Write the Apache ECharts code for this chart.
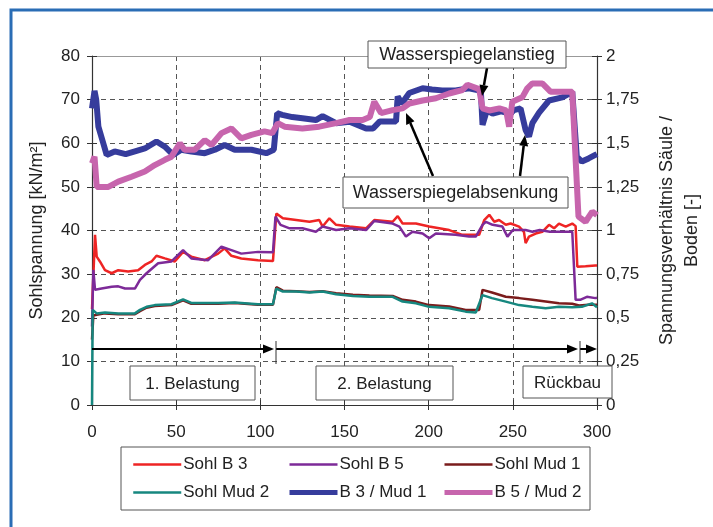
<!DOCTYPE html>
<html><head><meta charset="utf-8">
<script src="https://cdn.jsdelivr.net/npm/echarts@6/dist/echarts.min.js"></script>
<style>html,body{margin:0;padding:0;background:#fff}#c{width:713px;height:527px}</style>
</head><body><div id="c"></div>
<script>
// ---- data (x = time, y = Sohlspannung kN/m² or ratio) ----
const xTicks = [0, 50, 100, 150, 200, 250, 300];
const leftTicks = [0, 10, 20, 30, 40, 50, 60, 70, 80];
const rightTicks = [0, 0.25, 0.5, 0.75, 1, 1.25, 1.5, 1.75, 2];

const sohlB3 = [[0,22],[1.8,39],[2.8,34],[4.7,32.9],[7.7,30.9],[11.7,30.2],[15.6,30.9],[21.5,30.6],[27.4,30.9],[31.4,32.1],[35.4,32.9],[38.3,34.2],[43.3,33.6],[49.2,32.9],[54.1,35.1],[59,34],[67,33.2],[74.9,34.7],[78.8,35.9],[82.8,34.2],[88.7,33.6],[98.6,33.2],[107.5,33],[109.5,43.9],[113.4,42.8],[121.3,42.4],[129.2,42],[135,42.4],[137,40.9],[141,42.8],[145,41.3],[153,40.9],[162.8,40.5],[167.7,42.4],[178.6,42],[181.6,43.3],[184.5,41.6],[192.4,41.6],[200.3,40.9],[212.2,40.1],[220,39],[226,39],[230,39],[233,42.4],[236,43.6],[239,42],[241.8,42.4],[245.8,41.3],[248.7,41.6],[253.7,40.9],[256.6,39.7],[257.6,37.1],[259.6,38.6],[263.6,39.3],[267.5,39.7],[271.5,41.3],[274.5,40.5],[277.4,41.6],[281.4,40.9],[285.3,41.6],[287.3,41],[288.3,31.7],[293.2,31.8],[299,32],[300,32]];
const sohlB5 = [[0,18],[0.8,31],[1.8,26.4],[5.7,26.7],[11.7,27.1],[15.6,27.2],[19.6,26.7],[25.5,26.7],[28.5,28.7],[32.4,30.2],[39.3,32.5],[47.2,32.9],[54.1,35.5],[59,33.6],[69,33.2],[76.9,36.3],[82.8,35.5],[88.7,34.7],[98.6,35.1],[107.5,35],[109,43.2],[112,41.3],[117.4,40.5],[125,40.5],[133,39.7],[137,40.9],[145,40.1],[153,40.5],[162.8,40.1],[167.7,42.2],[178.6,41.6],[182.6,40.9],[186.5,38.6],[190.4,39.7],[196.4,39.3],[200.3,38.2],[204.3,39.3],[216,39],[224,38.6],[228,38.6],[232,41.3],[234,42],[238,41.3],[243.8,40.9],[246.8,38.6],[250,40.1],[257.6,40.1],[261.6,39.7],[266,40.1],[272,39.7],[279,39.7],[285.3,39.7],[287.3,24.1],[290,24.1],[294,24.8],[299,24.5],[300,24.6]];
const sohlMud1 = [[0,15],[0.8,20.5],[2.8,20.7],[7.7,21],[15.6,20.8],[25.5,20.8],[28.5,21.5],[32.4,22.3],[37.3,22.7],[47.2,22.9],[54.1,24],[59,23.2],[74.9,23.2],[84.8,23.4],[98.6,23],[107.5,23],[109.5,27],[113.4,26.2],[121.3,26.1],[129.2,25.9],[137,26.1],[145,25.6],[155,25.3],[164.8,25.1],[178.6,25],[184.5,24.1],[192.4,23.7],[200.3,22.9],[212.2,22.6],[222,21.8],[230,21.8],[232,26.4],[237.6,25.8],[245.8,24.8],[253.7,24.5],[261.6,24.1],[269.5,23.7],[277.4,23.3],[285.3,23.2],[289.3,22.8],[295,23],[300,23]];
const sohlMud2 = [[0,0],[0.4,21.8],[2.8,21],[7.7,21.2],[15.6,21],[25.5,21],[28.5,21.8],[32.4,22.5],[37.3,22.9],[47.2,23.1],[54.1,24.2],[59,23.4],[74.9,23.4],[84.8,23.5],[98.6,23.1],[107.5,23.1],[109.5,26.7],[113.4,26],[121.3,26],[129.2,25.8],[137,26],[145,25.4],[155,25],[164.8,24.8],[178.6,24.8],[184.5,23.7],[192.4,23.3],[200.3,22.5],[212.2,22.2],[222,21.4],[228,21.2],[232,25.2],[237.6,24.5],[245.8,23.7],[253.7,22.9],[261.6,22.5],[269.5,22.2],[277.4,22.5],[285.3,22.4],[291,22.5],[297,23.3],[300,22.4]];
const ratioB3Mud1 = [[0,1.70],[1.5,1.80],[2.5,1.75],[3.8,1.595],[6.7,1.50],[8.7,1.433],[13.5,1.453],[20,1.438],[26,1.455],[31.4,1.47],[38.3,1.51],[43.3,1.48],[48.2,1.433],[53,1.463],[59,1.453],[67,1.443],[73,1.463],[78.8,1.49],[84.8,1.463],[94.7,1.463],[103.5,1.443],[108,1.463],[110,1.672],[113,1.663],[119,1.65],[125,1.643],[133,1.633],[137,1.655],[145,1.615],[153,1.623],[162.8,1.585],[167,1.585],[171,1.625],[180.6,1.625],[181.6,1.768],[184,1.728],[188.5,1.788],[196.4,1.815],[202,1.808],[208,1.803],[216,1.803],[224,1.815],[231,1.80],[232,1.605],[234.6,1.69],[238,1.67],[243,1.683],[248.5,1.67],[250.7,1.69],[254.6,1.70],[257.6,1.575],[259.6,1.538],[261.6,1.615],[265.6,1.675],[271.5,1.745],[279.4,1.763],[285.3,1.795],[288,1.423],[291,1.395],[295,1.413],[299,1.433],[300,1.438]];
const ratioB5Mud2 = [[0,1.385],[1.5,1.423],[2.8,1.25],[3.8,1.24],[9.7,1.25],[15.6,1.28],[23.5,1.308],[31.4,1.338],[37.3,1.375],[43.3,1.405],[47.2,1.423],[52.2,1.50],[55,1.463],[61,1.463],[67,1.518],[71,1.49],[76.9,1.558],[82.8,1.585],[88.7,1.528],[94.7,1.548],[102.5,1.568],[107,1.558],[110.4,1.615],[114.4,1.595],[125,1.585],[135,1.595],[145,1.615],[153,1.633],[160.8,1.633],[165,1.65],[167.7,1.738],[171.7,1.673],[178.6,1.69],[184.5,1.70],[188.5,1.728],[196.4,1.745],[204.3,1.758],[212.2,1.785],[220,1.805],[223,1.835],[230,1.81],[232,1.70],[236,1.688],[242,1.70],[246,1.688],[247.8,1.595],[249.7,1.738],[255.6,1.763],[258.6,1.815],[261.6,1.843],[267.5,1.843],[272.5,1.795],[279.4,1.795],[285.3,1.795],[289,1.08],[293.2,1.05],[297.2,1.108],[300,1.088]];

const names = ['Sohl B 3', 'Sohl B 5', 'Sohl Mud 1', 'Sohl Mud 2', 'B 3 / Mud 1', 'B 5 / Mud 2'];

// ---- styles ----
const FONT = '"Liberation Sans", Arial, Helvetica, sans-serif';
const TXT = '#222';
const AX = '#333';
const GRID = { color: '#555', type: [5, 4], width: 1 };
const colors = ['#ee2424', '#7d2a98', '#7a1c1c', '#16877f', '#363c9c', '#c765ad'];
const widths = [2.5, 2.5, 2.5, 2.5, 6, 6];

const chart = echarts.init(document.getElementById('c'));

function lineSeries(i, data, yIdx) {
  return {
    name: names[i], type: 'line', data: data, xAxisIndex: 0, yAxisIndex: yIdx,
    showSymbol: false, symbol: 'none', animation: false,
    lineStyle: { color: colors[i], width: widths[i] }, itemStyle: { color: colors[i] }
  };
}

const baseX = { type: 'value', min: 0, max: 300, interval: 50 };
const baseYL = { type: 'value', min: 0, max: 80, interval: 10 };
const baseYR = { type: 'value', min: 0, max: 2, interval: 0.25 };

function arrow(x1, y1, x2, y2, w) {
  const dx = x2 - x1, dy = y2 - y1, L = Math.sqrt(dx*dx + dy*dy);
  const ux = dx / L, uy = dy / L, hl = 11, hw = 4.5;
  const bx = x2 - ux * hl, by = y2 - uy * hl;
  return [
    { type: 'line', shape: { x1: x1, y1: y1, x2: bx, y2: by }, style: { stroke: '#000', lineWidth: w || 2 }, z: 50 },
    { type: 'polygon', shape: { points: [[x2, y2], [bx - uy*hw, by + ux*hw], [bx + uy*hw, by - ux*hw]] }, style: { fill: '#000' }, z: 50 }
  ];
}
function box(x, y, w, h, text, fs) {
  return [
    { type: 'rect', shape: { x: x, y: y, width: w, height: h }, style: { fill: '#fff', stroke: '#555', lineWidth: 1 }, z: 60 },
    { type: 'text', x: x + w/2, y: y + h/2 + 1, style: { text: text, font: fs + 'px ' + FONT, fill: TXT, align: 'center', verticalAlign: 'middle' }, z: 61 }
  ];
}

const graphics = [].concat(
  [{ type: 'rect', shape: { x: 11, y: 10, width: 760, height: 600 }, style: { fill: 'none', stroke: '#2a6db5', lineWidth: 3 }, z: 100 }],
  // timeline arrows
  arrow(92, 349, 274, 349, 2),
  arrow(276, 349, 578, 349, 2),
  arrow(580, 349, 597, 349, 2),
  [{ type: 'line', shape: { x1: 276, y1: 341, x2: 276, y2: 364 }, style: { stroke: '#333', lineWidth: 1 }, z: 50 },
   { type: 'line', shape: { x1: 580, y1: 341, x2: 580, y2: 364 }, style: { stroke: '#333', lineWidth: 1 }, z: 50 }],
  box(130, 366, 125, 34, '1. Belastung', 17),
  box(316, 366, 137, 34, '2. Belastung', 17),
  box(523, 366, 89, 32, 'Rückbau', 17),
  // annotations
  arrow(487, 68, 482, 96, 2.5),
  arrow(433, 176, 406, 113, 2.5),
  arrow(520, 176, 525, 135, 2.5),
  box(368, 41, 198, 27, 'Wasserspiegelanstieg', 18),
  box(343, 177, 225, 31, 'Wasserspiegelabsenkung', 18),
  // legend frame
  [{ type: 'rect', shape: { x: 121, y: 447, width: 469, height: 63 }, style: { fill: '#fff', stroke: '#555', lineWidth: 1 }, z: -1 }]
);

function legendCol(left, items) {
  return {
    orient: 'vertical', left: left, top: 451, itemWidth: 48, itemHeight: 14, itemGap: 11,
    data: items.map(n => {
      const i = names.indexOf(n);
      return { name: n, lineStyle: { width: widths[i] < 3 ? 2.5 : 5, color: colors[i] }, itemStyle: { color: colors[i], opacity: 0 } };
    }),
    selectedMode: false,
    textStyle: { fontFamily: FONT, fontSize: 17, color: TXT, padding: [0, 0, 0, -3] }
  };
}

const option = {
  backgroundColor: '#fff',
  animation: false,
  grid: { left: 92, right: 115, top: 56, bottom: 122, containLabel: false },
  legend: [
    legendCol(127, ['Sohl B 3', 'Sohl Mud 2']),
    legendCol(282, ['Sohl B 5', 'B 3 / Mud 1']),
    legendCol(437, ['Sohl Mud 1', 'B 5 / Mud 2'])
  ],
  xAxis: [
    Object.assign({}, baseX, {
      position: 'bottom',
      axisLine: { onZero: false, lineStyle: { color: AX, width: 1.2 } },
      axisTick: { show: true, length: 5, lineStyle: { color: AX } },
      axisLabel: { margin: 19, fontFamily: FONT, fontSize: 17, color: TXT },
      splitLine: { show: true, showMinLine: false, showMaxLine: false, lineStyle: GRID }
    }),
    Object.assign({}, baseX, {
      position: 'bottom',
      axisLine: { show: false, onZero: false },
      axisTick: { show: true, inside: true, length: 5, lineStyle: { color: AX } },
      axisLabel: { show: false }, splitLine: { show: false }
    }),
    Object.assign({}, baseX, {
      position: 'top',
      axisLine: { show: true, onZero: false, lineStyle: { color: '#999', width: 1 } },
      axisTick: { show: false }, axisLabel: { show: false }, splitLine: { show: false }
    })
  ],
  yAxis: [
    Object.assign({}, baseYL, {
      position: 'left',
      name: 'Sohlspannung [kN/m²]', nameLocation: 'middle', nameRotate: 90, nameGap: 46,
      nameTextStyle: { fontFamily: FONT, fontSize: 18, color: TXT },
      axisLine: { show: true, onZero: false, lineStyle: { color: AX, width: 1.2 } },
      axisTick: { show: true, length: 5, lineStyle: { color: AX } },
      axisLabel: { margin: 12, fontFamily: FONT, fontSize: 17, color: TXT },
      splitLine: { show: true, showMinLine: false, showMaxLine: false, lineStyle: GRID }
    }),
    Object.assign({}, baseYR, {
      position: 'right',
      name: 'Spannungsverhältnis Säule /\nBoden [-]', nameLocation: 'middle', nameRotate: 90, nameGap: 58,
      nameTextStyle: { fontFamily: FONT, fontSize: 18, color: TXT, lineHeight: 25 },
      axisLine: { show: true, onZero: false, lineStyle: { color: AX, width: 1.2 } },
      axisTick: { show: true, length: 5, lineStyle: { color: AX } },
      axisLabel: { margin: 9, fontFamily: FONT, fontSize: 17, color: TXT, formatter: v => String(v).replace('.', ',') },
      splitLine: { show: false }
    }),
    Object.assign({}, baseYL, {
      position: 'left',
      axisLine: { show: false, onZero: false },
      axisTick: { show: true, inside: true, length: 5, lineStyle: { color: AX } },
      axisLabel: { show: false }, splitLine: { show: false }
    }),
    Object.assign({}, baseYR, {
      position: 'right',
      axisLine: { show: false, onZero: false },
      axisTick: { show: true, inside: true, length: 5, lineStyle: { color: AX } },
      axisLabel: { show: false }, splitLine: { show: false }
    })
  ],
  series: [
    lineSeries(0, sohlB3, 0),
    lineSeries(1, sohlB5, 0),
    lineSeries(2, sohlMud1, 0),
    lineSeries(3, sohlMud2, 0),
    lineSeries(4, ratioB3Mud1, 1),
    lineSeries(5, ratioB5Mud2, 1)
  ],
  graphic: graphics
};
chart.setOption(option);
</script>
</body></html>
